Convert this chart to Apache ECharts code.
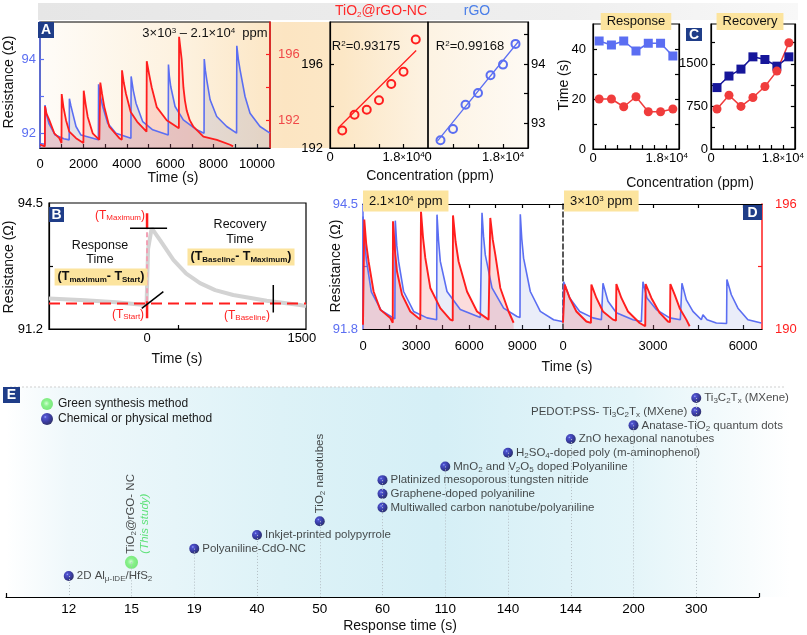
<!DOCTYPE html>
<html><head><meta charset="utf-8">
<script src="https://cdn.jsdelivr.net/npm/echarts@6.0.0/dist/echarts.min.js"></script>
<style>html,body{margin:0;padding:0;background:#fff;}#chart{width:807px;height:635px;}</style>
</head><body><div id="chart"></div>
<script>
// ---------------- DATA ----------------
// Panel A: resistance transients, time (s) vs resistance (Ω)
const panelARed = [[0,190.5],[225,190.4],[231,192.85],[300,192.4],[429,192.0],[659,191.2],[890,190.9],[990,190.6],[1000,193.6],[1080,192.8],[1199,192.0],[1351,191.3],[1660,190.9],[2000,190.6],[2015,193.8],[2100,193.0],[2199,192.2],[2429,191.2],[2734,190.8],[2770,190.8],[2780,194.3],[2860,193.6],[2964,192.8],[3195,191.6],[3656,190.9],[3770,190.8],[3780,195.05],[3860,194.3],[3965,193.6],[4180,192.5],[4480,191.9],[4910,191.3],[4920,195.6],[5030,194.8],[5150,194.0],[5380,192.8],[5840,192.0],[6400,191.5],[6410,197.1],[6470,196.4],[6530,195.7],[6610,194.0],[6680,193.2],[6760,192.6],[6900,192.0],[7070,191.6],[7530,191.0],[8150,190.8],[8760,190.5],[8900,190.4]];
const panelABlue = [[0,91.72],[225,91.7],[231,92.76],[300,92.5],[420,92.25],[700,91.95],[1100,91.85],[1345,91.82],[1355,92.93],[1420,92.75],[1507,92.54],[1660,92.18],[1890,91.95],[2690,91.82],[2700,93.32],[2780,93.0],[2890,92.72],[3120,92.27],[3500,92.0],[4190,91.86],[4200,93.53],[4300,93.15],[4425,92.81],[4735,92.31],[5195,92.09],[5910,91.95],[5920,93.85],[5960,93.55],[6025,93.26],[6225,92.72],[6605,92.36],[7225,92.09],[7560,92.0],[7570,94.0],[7620,93.7],[7685,93.44],[7840,92.9],[8145,92.45],[8605,92.18],[9060,92.0],[9070,94.36],[9140,94.0],[9220,93.71],[9450,92.99],[9680,92.54],[10140,92.18],[10600,92.0]];
// Linear fits: concentration (ppm) vs resistance
const fitConc = [3000,6000,9000,12000,15000,18000,21000];
const fitRedR = [192.83,193.58,193.82,194.27,195.05,195.63,197.17];
const fitBlueR = [92.71,92.90,93.31,93.51,93.81,93.99,94.34];
const fitRedLine = [[2000,192.95],[21100,196.64]];
const fitBlueLine = [[2300,92.70],[21700,94.38]];
// Panel C: response / recovery times
const cConc = [1500,4500,7500,10500,13500,16500,19500];
const respRGO = [43.2,41.6,43.2,39.2,42.3,42.3,37.2];
const respNC = [20,20,16.9,20.9,14.9,14.9,16];
const recRGO = [1081,1284,1406,1622,1575,1458,1622];
const recNC = [703,947,750,907,1099,1371,1871];
// Panel B: single transient and markers
const bCurve = [[-950,92.0],[-600,91.95],[-300,91.9],[-100,91.85],[-5,91.83],[10,93.3],[45,93.84],[126,93.53],[255,93.01],[380,92.65],[513,92.4],[660,92.22],[835,92.09],[1159,91.94],[1481,91.83],[1540,91.8]];
const bBaseline = [[-950,91.87],[1540,91.87]];
const bStartDash = [[0,91.93],[0,93.84]];
const bStartTop = [[0,93.84],[0,94.23]];
const bStartBottom = [[0,91.48],[0,91.93]];
const bPeakBar = [[-165,93.84],[194,93.84]];
const bStartTick = [[-51,91.74],[158,92.18]];
const bBaseTick = [[1223,91.63],[1223,92.35]];
// Panel D: 2.1e4 ppm (left) and 3e3 ppm (right)
const d1Red = [[0,190.2],[60,190.2],[73,195.25],[180,194.1],[316,193.24],[599,191.8],[977,190.93],[1542,190.53],[1680,190.3],[1695,195.17],[1800,193.8],[1921,192.76],[2204,191.65],[2672,190.84],[3237,190.45],[3277,195.64],[3390,194.4],[3520,193.41],[3802,191.97],[4367,191.0],[4932,190.45],[5070,190.4],[5085,195.45],[5230,194.2],[5401,193.24],[5876,191.8],[6441,190.84],[7096,190.45],[7180,190.4],[7192,195.33],[7330,194.3],[7475,193.57],[7757,191.97],[8226,190.84],[8509,190.3]];
const d1Blue = [[0,91.95],[5,94.23],[90,93.7],[190,93.3],[470,92.6],[1030,92.2],[1800,92.02],[1825,94.14],[1910,93.6],[2011,93.26],[2294,92.61],[2859,92.18],[3616,92.04],[4160,92.0],[4181,94.27],[4270,93.7],[4368,93.26],[4746,92.61],[5497,92.22],[6627,92.05],[6710,92.03],[6724,94.31],[6810,93.8],[6910,93.4],[7289,92.69],[7944,92.25],[8701,92.07],[8870,92.05],[8887,94.28],[8970,93.75],[9074,93.33],[9452,92.61],[10017,92.18],[10769,92.0],[11244,91.96],[11300,91.95]];
const d2Red = [[0,190.3],[45,190.3],[57,192.13],[223,191.49],[446,190.84],[779,190.36],[930,190.29],[946,192.13],[1112,191.49],[1332,190.84],[1665,190.45],[1765,190.4],[1778,192.16],[1945,191.49],[2165,190.84],[2554,190.29],[2740,190.13],[2754,192.16],[2944,191.49],[3221,190.77],[3497,190.36],[3565,190.33],[3577,192.16],[3720,191.65],[3887,191.0],[4109,190.45],[4219,190.13]];
const d2Blue = [[0,91.95],[15,91.95],[23,92.82],[223,92.47],[556,92.18],[999,92.04],[1279,92.0],[1320,92.0],[1332,92.79],[1499,92.4],[1778,92.15],[2331,92.0],[2611,91.96],[2650,91.96],[2664,92.82],[2797,92.47],[3110,92.22],[3553,92.04],[3909,92.0],[3950,92.0],[3963,92.79],[4109,92.43],[4329,92.18],[4609,92.0],[4650,92.0],[4662,92.11],[4800,92.0],[5108,91.93],[5450,91.92],[5461,92.87],[5608,92.54],[5828,92.25],[6161,92.0],[6607,91.93]];
// Panel E: comparison of response times
const eTimes = ['12','15','19','40','50','60','110','140','144','200','300'];
const eNames = ['2D Al{s|μ-IDE}/HfS{s|2}','TiO{s|2}@rGO- NC\n{g|(This study)}','Polyaniline-CdO-NC','Inkjet-printed polypyrrole','TiO{s|2} nanotubes','Multiwalled carbon nanotube/polyaniline','Graphene-doped polyaniline','Platinized mesoporous tungsten nitride','MnO{s|2} and V{s|2}O{s|5} doped Polyaniline','H{s|2}SO{s|4}-doped poly (m-aminophenol)','ZnO hexagonal nanotubes','Anatase-TiO{s|2} quantum dots','PEDOT:PSS- Ti{s|3}C{s|2}T{s|x} (MXene)','Ti{s|3}C{s|2}T{s|x} (MXene)'];
const eResp = ['12','15','19','40','50','60','60','60','110','140','144','200','300','300'];
const eMethod = ['chem','green','chem','chem','chem','chem','chem','chem','chem','chem','chem','chem','chem','chem'];

// ---------------- STYLE ----------------
const FONT = '"Liberation Sans", Arial, Helvetica, sans-serif';
const BLUE = '#5b6ef2', RED = '#ff1e1e', NAVY = '#16169a', YEL = '#fce49e', BADGE = '#1f3d88';
const eRotated = {1:[13.2,-2.2], 4:[5,-3]};
const eLeft = {12:true};

function axis(grid, min, max, p) {
  p = p || {};
  const c = p.color || '#000';
  const a = {
    type: 'value', gridIndex: grid, min: min, max: max,
    axisLine: {show: p.line !== false, onZero: false, lineStyle: {color: p.lineColor || c, width: p.lw || 1.2, type: p.lineType || 'solid'}},
    axisTick: {show: !!p.ticks, inside: true, length: 4, lineStyle: {color: p.lineColor || c, width: 1.2}},
    axisLabel: {show: !!p.labels, color: p.labelColor || c, fontSize: p.fs || 13, fontFamily: FONT, margin: p.margin == null ? 4 : p.margin,
      formatter: p.fmt || (v => String(v))},
    splitLine: {show: false}
  };
  if (p.ticks) a.axisTick.customValues = p.ticks;
  if (p.labels) a.axisLabel.customValues = p.labels;
  if (p.rich) a.axisLabel.rich = p.rich;
  if (p.position) a.position = p.position;
  if (p.show === false) a.show = false;
  return a;
}
const supS = {fontSize: 8, verticalAlign: 'top', lineHeight: 8, fontFamily: FONT};
const concRich = {n: {fontSize: 13, fontFamily: FONT, color: '#000'}, x: {fontSize: 9, fontFamily: FONT, color: '#000'}, p: Object.assign({color:'#000'}, supS)};
const concFmt = v => v === 0 ? '{n|0}' : '{n|1.8}{x|×}{n|10}{p|4}';
const range = (a, b, s) => { const r = []; for (let v = a; v <= b + 1e-9; v += s) r.push(v); return r; };
const zip = (xs, ys) => xs.map((x, i) => [x, ys[i]]);

const xAxes = [
  axis(0, 0, 10600, {ticks: range(1000, 10000, 1000), labels: range(0, 10000, 2000), margin: 10}),
  axis(1, 0, 24000, {ticks: [6000, 12000, 18000], labels: [0, 18000], fmt: concFmt, rich: concRich, margin: 3}),
  axis(2, 0, 24000, {ticks: [6000, 12000, 18000], labels: [0, 18000], fmt: concFmt, rich: concRich, margin: 3}),
  axis(3, 0, 21000, {ticks: range(3000, 18000, 3000), labels: [0, 18000], fmt: concFmt, rich: concRich, margin: 3}),
  axis(4, 0, 21000, {ticks: range(3000, 18000, 3000), labels: [0, 18000], fmt: concFmt, rich: concRich, margin: 3}),
  axis(5, -950, 1540, {ticks: [300], labels: [0, 1500], margin: 3}),
  axis(6, 0, 11300, {ticks: range(1500, 10500, 1500), labels: [0, 3000, 6000, 9000], margin: 11}),
  axis(7, 0, 6630, {ticks: range(1500, 6000, 1500), labels: [0, 3000, 6000], margin: 11}),
  axis(6, 0, 11300, {ticks: range(1500, 10500, 1500), position: 'top'}),
  axis(7, 0, 6630, {ticks: range(1500, 6000, 1500), position: 'top'}),
  axis(8, -1, 11, {ticks: [-1, 11], labels: range(0, 10, 1), fmt: v => eTimes[v], fs: 13.5, margin: 5})
];
const yAxes = [
  axis(0, 91.6, 95.0, {color: BLUE, ticks: [92, 93, 94], labels: [92, 94], margin: 4, lw: 1.5}),
  axis(0, 190.3, 198, {position: 'right', color: RED, labelColor: '#f04848', ticks: [192, 194, 196], labels: [192, 196], margin: 8, lw: 1.5}),
  axis(1, 192, 198, {ticks: [194, 196], labels: [192, 196], margin: 7}),
  axis(2, 92.58, 94.71, {position: 'right', ticks: [93, 93.5, 94, 94.5], labels: [93, 94], margin: 3}),
  axis(3, 0, 50, {ticks: [10, 20, 30, 40], labels: [0, 20, 40], margin: 7}),
  axis(3, 0, 50, {position: 'right', ticks: [10, 20, 30, 40]}),
  axis(4, 0, 2200, {ticks: range(375, 1875, 375), labels: [0, 750, 1500], margin: 3}),
  axis(4, 0, 2200, {position: 'right', ticks: range(375, 1875, 375)}),
  axis(5, 91.2, 94.5, {ticks: [92.85], labels: [91.2, 94.5], margin: 6}),
  axis(6, 91.8, 94.5, {color: BLUE, ticks: [93.15], labels: [91.8, 94.5], margin: 5, lw: 1.5}),
  axis(6, 190, 196, {show: false, position: 'right'}),
  axis(7, 91.8, 94.5, {lineColor: '#222', lineType: [5, 3], lw: 1.5}),
  axis(7, 190, 196, {position: 'right', color: RED, ticks: [193], labels: [190, 196], margin: 13, lw: 1.5}),
  axis(8, -1.53, 13.8, {show: false})
];
const grids = [
  {left: 40, top: 22, width: 230, height: 126, show: true, borderColor: '#000', borderWidth: 1.2},
  {left: 330, top: 22, width: 98, height: 126, show: true, borderColor: '#000', borderWidth: 1.2},
  {left: 428, top: 22, width: 100, height: 126, show: true, borderColor: '#000', borderWidth: 1.2},
  {left: 593, top: 24, width: 86, height: 125, show: true, borderColor: '#000', borderWidth: 1.2},
  {left: 711, top: 24, width: 87, height: 125, show: true, borderColor: '#000', borderWidth: 1.2},
  {left: 49, top: 203, width: 257, height: 126, show: true, borderColor: '#000', borderWidth: 1.2},
  {left: 363, top: 204, width: 200, height: 125},
  {left: 563, top: 204, width: 199, height: 125},
  {left: 6, top: 387, width: 753, height: 210}
];

function curve(x, y, data, color, fill, w) {
  return {type: 'line', xAxisIndex: x, yAxisIndex: y, data: data, showSymbol: false, symbol: 'none', silent: true,
    lineStyle: {color: color, width: w || 1.6}, areaStyle: fill ? {color: fill, origin: 'start'} : undefined};
}
function seg(x, y, data, color, width, type) {
  return {type: 'line', xAxisIndex: x, yAxisIndex: y, data: data, symbol: 'none', silent: true, lineStyle: {color: color, width: width, type: type || 'solid'}};
}
function dots(x, y, data, color, sym, size, hollow) {
  return {type: 'line', xAxisIndex: x, yAxisIndex: y, data: data, symbol: sym, symbolSize: size, showSymbol: true,
    lineStyle: {width: hollow ? 0 : 1.5, color: color, opacity: hollow ? 0 : 1},
    itemStyle: hollow ? {color: 'rgba(255,255,255,0)', borderColor: color, borderWidth: 2} : {color: color}};
}

const navyFill = {type: 'radial', x: 0.36, y: 0.33, r: 0.72, colorStops: [{offset: 0, color: '#8e9cff'}, {offset: 0.16, color: '#2a2ac4'}, {offset: 0.6, color: '#0c0c88'}, {offset: 1, color: '#020240'}]};
const greenFill = {type: 'radial', x: 0.45, y: 0.45, r: 0.7, colorStops: [{offset: 0, color: '#c9ffc9'}, {offset: 0.35, color: '#70f070'}, {offset: 1, color: '#52dd52'}]};
const eRich = {
  s: {fontSize: 8, verticalAlign: 'bottom', lineHeight: 9, fontFamily: FONT, color: '#1a1a1a'},
  g: {fontSize: 11.5, fontStyle: 'italic', color: '#3ddc5a', fontFamily: FONT, lineHeight: 14}
};
function ePoint(i) {
  const xi = eTimes.indexOf(eResp[i]);
  const lab = {show: true, formatter: eNames[i], fontSize: 11.5, fontFamily: FONT, color: '#1a1a1a', rich: eRich, lineHeight: 14};
  if (eRotated[i]) {
    Object.assign(lab, {position: eRotated[i], rotate: 90, align: 'left', verticalAlign: 'middle'});
  } else if (eLeft[i]) {
    Object.assign(lab, {position: 'left', distance: 4});
  } else {
    Object.assign(lab, {position: 'right', distance: 3});
  }
  return {value: [xi, i], label: lab};
}
const eIdx = eNames.map((_, i) => i);
const eChem = eIdx.filter(i => eMethod[i] === 'chem').map(ePoint);
const eGreen = eIdx.filter(i => eMethod[i] === 'green').map(ePoint);
const eDropIdx = eIdx.filter(i => eIdx.every(j => j === i || eResp[j] !== eResp[i] || j < i));
const eDrops = eDropIdx.map(i => { const xi = eTimes.indexOf(eResp[i]); return [{coord: [xi, i]}, {coord: [xi, -1.53]}]; });

const series = [
  curve(0, 0, panelABlue, BLUE, 'rgba(130,135,190,0.28)'),
  curve(0, 1, panelARed, RED, 'rgba(240,50,50,0.22)', 1.8),
  seg(1, 2, fitRedLine, RED, 1.3),
  dots(1, 2, zip(fitConc, fitRedR), RED, 'circle', 8, true),
  seg(2, 3, fitBlueLine, BLUE, 1.3),
  dots(2, 3, zip(fitConc, fitBlueR), BLUE, 'circle', 8, true),
  dots(3, 4, zip(cConc, respRGO), BLUE, 'rect', 9, false),
  dots(3, 4, zip(cConc, respNC), '#f03c3c', 'circle', 9, false),
  dots(4, 6, zip(cConc, recRGO), NAVY, 'rect', 9, false),
  dots(4, 6, zip(cConc, recNC), '#f03c3c', 'circle', 9, false),
  seg(5, 8, bCurve, '#d3d3d3', 4),
  seg(5, 8, bBaseline, RED, 2, [11, 6]),
  seg(5, 8, bStartDash, '#f2a0b4', 2, [5, 3]),
  seg(5, 8, bStartTop, RED, 2.5),
  seg(5, 8, bStartBottom, RED, 2.5),
  seg(5, 8, bPeakBar, '#000', 1.5),
  seg(5, 8, bStartTick, '#000', 1.5),
  seg(5, 8, bBaseTick, '#000', 1.5),
  curve(6, 9, d1Blue, BLUE, 'rgba(140,155,220,0.26)'),
  curve(6, 10, d1Red, RED, 'rgba(240,50,50,0.24)', 1.9),
  curve(7, 11, d2Blue, BLUE, 'rgba(140,155,220,0.26)'),
  curve(7, 12, d2Red, RED, 'rgba(240,50,50,0.24)', 1.9),
  {name: 'Chemical or physical method', type: 'scatter', xAxisIndex: 10, yAxisIndex: 13, data: eChem, symbolSize: 10, itemStyle: {color: navyFill},
    markLine: {silent: true, symbol: 'none', label: {show: false}, lineStyle: {type: [1, 2], color: '#b4bec4', width: 1}, data: eDrops}},
  {name: 'Green synthesis method', type: 'scatter', xAxisIndex: 10, yAxisIndex: 13, data: eGreen, symbolSize: 13, itemStyle: {color: greenFill}}
];

function txt(x, y, text, o) {
  o = o || {};
  return {type: 'text', x: x, y: y, rotation: o.rot || 0, z: 50,
    style: Object.assign({text: text, fontSize: 14, fontFamily: FONT, fill: '#111', align: 'center', verticalAlign: 'middle'}, o.style || {})};
}
function badge(x, y, w, h, letter) {
  return [{type: 'rect', z: 50, shape: {x: x, y: y, width: w, height: h}, style: {fill: BADGE}},
    {type: 'text', z: 51, x: x + w / 2, y: y + h / 2 + 0.5, style: {text: letter, fontSize: 14, fontWeight: 'bold', fontFamily: FONT, fill: '#fff', align: 'center', verticalAlign: 'middle'}}];
}
const subR = (c, b) => ({fontSize: 8, verticalAlign: 'bottom', lineHeight: 8, fill: c, fontFamily: FONT, fontWeight: b ? 'bold' : 'normal'});
const supR = (c) => ({fontSize: 8, verticalAlign: 'top', lineHeight: 8, fill: c, fontFamily: FONT});

const graphic = [
  {type: 'rect', z: -10, shape: {x: 38, y: 3, width: 760, height: 17}, style: {fill: {type: 'linear', x: 0, y: 0, x2: 1, y2: 0, colorStops: [{offset: 0, color: '#e6e6e6'}, {offset: 0.7, color: '#efefef'}, {offset: 1, color: '#f8f8f8'}]}}},
  {type: 'rect', z: -10, shape: {x: 40, y: 22, width: 488, height: 126}, style: {fill: {type: 'linear', x: 0, y: 0, x2: 1, y2: 0, colorStops: [{offset: 0, color: '#fefcf8'}, {offset: 0.3, color: '#fdf1de'}, {offset: 0.5, color: '#fce5c2'}, {offset: 0.62, color: '#fce7c6'}, {offset: 0.8, color: '#fdf3e3'}, {offset: 1, color: '#fefaf4'}]}}},
  {type: 'rect', z: -10, shape: {x: 6, y: 387, width: 784, height: 210}, style: {fill: {type: 'linear', x: 0, y: 0, x2: 1, y2: 0, colorStops: [{offset: 0, color: '#ffffff'}, {offset: 0.08, color: '#eff8fb'}, {offset: 0.35, color: '#ddf2f7'}, {offset: 0.55, color: '#d5eff6'}, {offset: 0.8, color: '#e4f5f9'}, {offset: 0.95, color: '#f8fcfd'}, {offset: 1, color: '#ffffff'}]}}},
  {type: 'line', z: -9, shape: {x1: 10, y1: 387, x2: 786, y2: 387}, style: {stroke: '#cfcfcf', lineWidth: 1, lineDash: [2, 2]}},
  txt(381, 11.5, 'TiO{r|2}@rGO-NC', {style: {fill: '#ff2a2a', fontSize: 14, rich: {r: subR('#ff2a2a')}}}),
  txt(477, 11.5, 'rGO', {style: {fill: '#4a7ee8', fontSize: 14}}),
  txt(205, 33, '3×10{p|3} – 2.1×10{p|4}  ppm', {style: {fontSize: 13, rich: {p: supR('#111')}}}),
  txt(366, 46.5, 'R{p|2}=0.93175', {style: {fontSize: 13, rich: {p: supR('#111')}}}),
  txt(470, 46.5, 'R{p|2}=0.99168', {style: {fontSize: 13, rich: {p: supR('#111')}}}),
  txt(636, 21.5, 'Response', {style: {fontSize: 13, backgroundColor: YEL, padding: [2, 6]}}),
  txt(750, 21.5, 'Recovery', {style: {fontSize: 13, backgroundColor: YEL, padding: [2, 6]}}),
  txt(9, 82, 'Resistance (Ω)', {rot: Math.PI / 2}),
  txt(173, 178, 'Time (s)'),
  txt(430, 176, 'Concentration (ppm)'),
  txt(564, 85, 'Time (s)', {rot: Math.PI / 2}),
  txt(690, 183, 'Concentration (ppm)'),
  txt(9, 267, 'Resistance (Ω)', {rot: Math.PI / 2}),
  txt(177, 359, 'Time (s)'),
  txt(336, 266, 'Resistance (Ω)', {rot: Math.PI / 2}),
  txt(567, 367, 'Time (s)'),
  txt(400, 626, 'Response time (s)'),
  txt(120, 216, '(T{s|Maximum})', {style: {fontSize: 12, fill: RED, rich: {s: subR(RED)}}}),
  txt(100, 253, 'Response\nTime', {style: {fontSize: 12.5, lineHeight: 14}}),
  txt(101, 277, '(T{s|maximum}- T{s|Start})', {style: {fontSize: 12.5, fontWeight: 'bold', backgroundColor: YEL, padding: [2, 3], rich: {s: subR('#111', true)}}}),
  txt(240, 232, 'Recovery\nTime', {style: {fontSize: 12.5, lineHeight: 15}}),
  txt(241, 257, '(T{s|Baseline}- T{s|Maximum})', {style: {fontSize: 12.5, fontWeight: 'bold', backgroundColor: YEL, padding: [2, 3], rich: {s: subR('#111', true)}}}),
  txt(128, 315, '(T{s|Start})', {style: {fontSize: 12, fill: RED, rich: {s: subR(RED)}}}),
  txt(247, 316, '(T{s|Baseline})', {style: {fontSize: 12, fill: RED, rich: {s: subR(RED)}}}),
  txt(363, 201, '2.1×10{p|4} ppm', {style: {align: 'left', fontSize: 13, backgroundColor: YEL, padding: [4, 6], rich: {p: supR('#111')}}}),
  txt(564, 201, '3×10{p|3} ppm', {style: {align: 'left', fontSize: 13, backgroundColor: YEL, padding: [4, 6], rich: {p: supR('#111')}}})
].concat(badge(38, 22, 16, 16, 'A'), badge(49, 207, 15, 15, 'B'), badge(686, 28, 16, 13, 'C'), badge(743, 205, 19, 15, 'D'), badge(3, 387, 17, 16, 'E'));

const chart = echarts.init(document.getElementById('chart'), null, {width: 807, height: 635});
chart.setOption({
  animation: false,
  backgroundColor: '#fff',
  textStyle: {fontFamily: FONT},
  grid: grids, xAxis: xAxes, yAxis: yAxes, series: series, graphic: graphic,
  legend: {left: 36, top: 393, orient: 'vertical', itemGap: 3, itemWidth: 12, itemHeight: 12, selectedMode: false,
    textStyle: {fontSize: 12, fontFamily: FONT, color: '#1a1a1a'},
    data: [{name: 'Green synthesis method', icon: 'circle'}, {name: 'Chemical or physical method', icon: 'circle'}]}
});
</script></body></html>
